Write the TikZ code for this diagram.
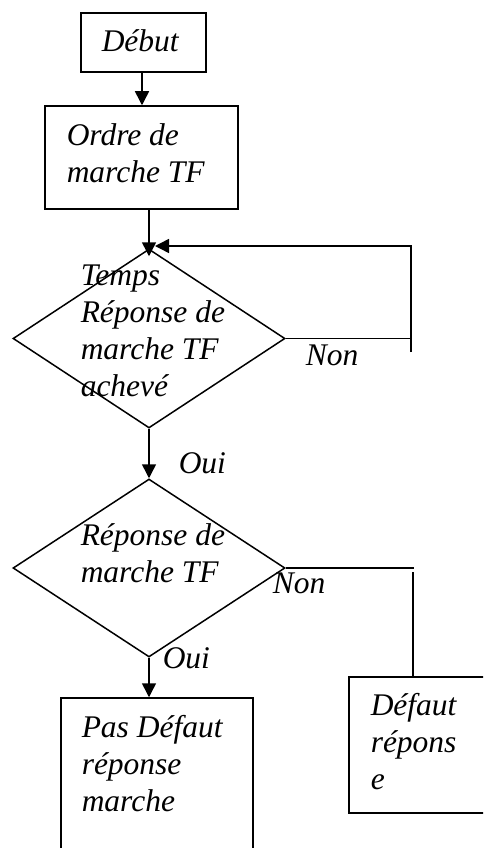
\documentclass[tikz,border=0pt]{standalone}
\usepackage{fontspec}
\setmainfont{Liberation Serif}
\usetikzlibrary{shapes.geometric,arrows.meta}
\begin{document}
\begin{tikzpicture}[x=1pt,y=-1pt,
  line width=1.5pt,
  box/.style={draw,rectangle,inner sep=0pt},
  test/.style={draw,diamond,inner sep=0pt,minimum width=272pt},
  lbl/.style={anchor=base west,inner sep=0pt,align=left,
    font=\fontsize{31.5}{37}\selectfont\itshape},
  arr/.style={-{Triangle[width=14pt,length=14pt]}}]
\useasboundingbox (0,0) rectangle (483,848);
\clip (0,0) rectangle (483,848);

% shapes
\node[box,minimum width=125pt,minimum height=59pt] (debut) at (143.5,42.5) {};
\node[box,minimum width=193pt,minimum height=103pt] (ordre) at (141.5,157.5) {};
\node[test,minimum height=179pt] (d1) at (149,338.5) {};
\node[test,minimum height=178pt] (d2) at (149,568) {};
\node[box,minimum width=192pt,minimum height=184pt] (pas) at (157,790) {};
\node[box,minimum width=138pt,minimum height=136pt] (defaut) at (418,745) {};

% texts (multi-line nodes sit on the baseline of their last line)
\node[lbl] (tdebut) at (101,52) {Début};
\node[lbl] (tordre) at (66,182) {Ordre de\\marche TF};
\node[lbl] (td1) at (80,396) {Temps\\Réponse de\\marche TF\\achevé};
\node[lbl] (tnon1) at (305,365) {Non};
\node[lbl] (toui1) at (178,473) {Oui};
\node[lbl] (td2) at (80,582) {Réponse de\\marche TF};
\node[lbl] (tnon2) at (272,593) {Non};
\node[lbl] (toui2) at (162,668) {Oui};
\node[lbl] (tpas) at (81,811) {Pas Défaut\\réponse\\marche};
\node[lbl] (tdef) at (370,789) {Défaut\\répons\\e};

% connectors
\coordinate (loopbot) at (411,352);
\coordinate (looptop) at (411,246);
\coordinate (looptip) at (155,246);
\coordinate (nonR) at (414,568);
\coordinate (nonV) at (413,572);

\draw[arr] (debut.south -| 142,0) -- (142,0 |- ordre.north);
\draw[arr,shorten >=-8pt] (d1.north |- ordre.south) -- (d1.north);
\draw (d1.east) -- (d1.east -| loopbot);
\draw[arr] (loopbot) -- (looptop) -- (looptip);
\draw[arr] (d1.south) -- (d2.north);
\draw (d2.east) -- (nonR);
\draw (nonV) -- (nonV |- defaut.north);
\draw[arr] (d2.south) -- (d2.south |- pas.north);
\end{tikzpicture}
\end{document}
